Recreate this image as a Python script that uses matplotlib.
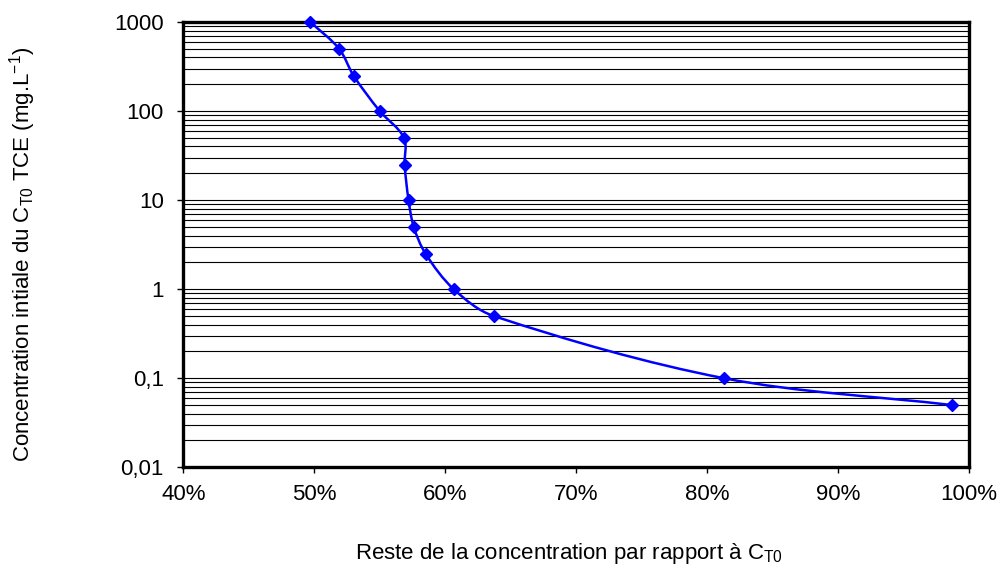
import matplotlib
matplotlib.use("Agg")
import matplotlib.pyplot as plt
from matplotlib.path import Path
from matplotlib.patches import PathPatch
from matplotlib.ticker import FixedLocator, FixedFormatter, LogLocator, NullFormatter
import numpy as np

plt.rcParams['font.family'] = ['Liberation Sans', 'DejaVu Sans']

# Reste de la concentration (%) vs concentration initiale (mg/L)
reste_pct = [49.7, 51.9, 53.0, 55.0, 56.85, 56.9, 57.2, 57.6, 58.5, 60.65, 63.7, 81.3, 98.7]
conc_init = [1000, 500, 250, 100, 50, 25, 10, 5, 2.5, 1, 0.5, 0.1, 0.05]

x_ticks = [40, 50, 60, 70, 80, 90, 100]
x_labels = ['40%', '50%', '60%', '70%', '80%', '90%', '100%']
y_ticks = [0.01, 0.1, 1, 10, 100, 1000]
y_labels = ['0,01', '0,1', '1', '10', '100', '1000']

fig = plt.figure(figsize=(10.03, 5.70), dpi=100)
ax = fig.add_axes([0.1828, 0.1802, 0.7832, 0.7812])
ax.set_yscale('log')
ax.set_xlim(40, 100)
ax.set_ylim(0.01, 1000)

# grid lines on every major and minor decade step
ax.yaxis.set_major_locator(FixedLocator(y_ticks))
ax.yaxis.set_major_formatter(FixedFormatter(y_labels))
ax.yaxis.set_minor_locator(LogLocator(base=10, subs=np.arange(2, 10)))
ax.yaxis.set_minor_formatter(NullFormatter())
ax.grid(True, which='both', axis='y', color='black', linewidth=0.8)
ax.tick_params(axis='y', which='minor', length=0)
ax.set_axisbelow(True)

ax.xaxis.set_major_locator(FixedLocator(x_ticks))
ax.xaxis.set_major_formatter(FixedFormatter(x_labels))
ax.tick_params(axis='both', which='major', direction='out', length=4, width=1,
               labelsize=16)
ax.tick_params(axis='y', pad=10)
ax.tick_params(axis='x', pad=8)

for s in ax.spines.values():
    s.set_linewidth(2.4)
    s.set_color('black')

# smoothed line (Excel style): Bezier curve, tangents computed in screen-like space
sx, sy = 13.11, 89.0
P = np.column_stack([np.array(reste_pct) * sx, np.log10(conc_init) * sy])
n = len(P)
tang = []
for i in range(n):
    d = P[min(i + 1, n - 1)] - P[max(i - 1, 0)]
    tang.append(d / np.hypot(*d))
verts = [(reste_pct[0], conc_init[0])]
codes = [Path.MOVETO]
for i in range(n - 1):
    L = np.hypot(*(P[i + 1] - P[i])) * 0.33
    c1 = P[i] + tang[i] * L
    c2 = P[i + 1] - tang[i + 1] * L
    for c in (c1, c2):
        verts.append((c[0] / sx, 10 ** (c[1] / sy)))
    verts.append((reste_pct[i + 1], conc_init[i + 1]))
    codes += [Path.CURVE4] * 3
ax.add_patch(PathPatch(Path(verts, codes), facecolor='none', edgecolor='#0000FF',
                       linewidth=1.8, zorder=3))
ax.plot(reste_pct, conc_init, linestyle='none', marker='D', markersize=6.5,
        color='#0000FF', zorder=4, clip_on=False)

ax.set_xlabel('Reste de la concentration par rapport à C$_{\\mathregular{T0}}$',
              fontsize=16)
ax.set_ylabel('Concentration intiale du C$_{\\mathregular{T0}}$ TCE (mg.L$^{\\mathregular{-1}}$)',
              fontsize=16)
ax.xaxis.set_label_coords(0.491, -0.165)
ax.yaxis.set_label_coords(-0.185, 0.478)

fig.savefig('out.png', dpi=100)
